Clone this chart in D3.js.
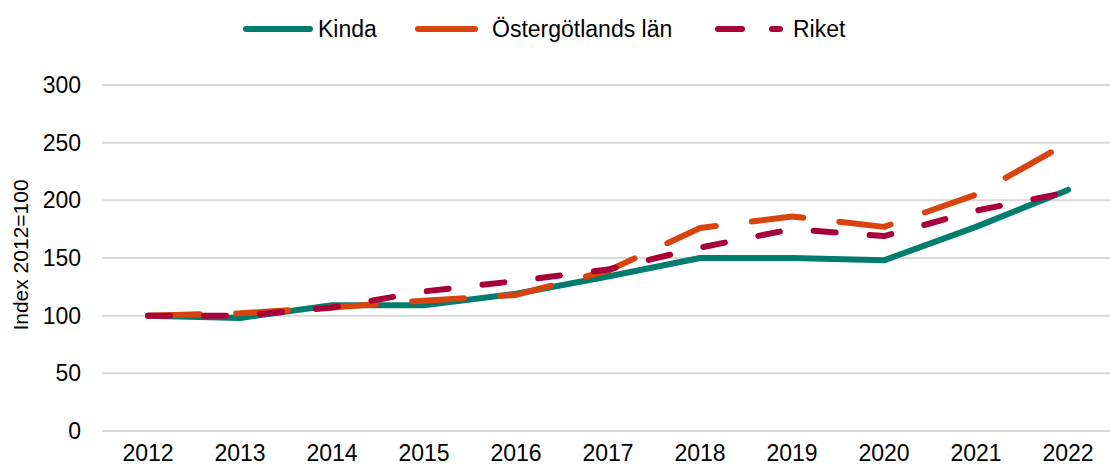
<!DOCTYPE html>
<html>
<head>
<meta charset="utf-8">
<script src="https://cdn.jsdelivr.net/npm/d3@7"></script>
<style>
    body { margin: 0; background: #fff; }
    svg { display: block; font-family: "Liberation Sans", Arial, sans-serif; }
</style>
</head>
<body>
<svg id="chart"></svg>
<script>
const years = ["2012", "2013", "2014", "2015", "2016", "2017", "2018", "2019", "2020", "2021", "2022"];

const kinda = [100, 98, 109, 109, 119, 134, 150, 150, 148, 177, 209];
const ostergotland = [100, 102, 107, 113, 118, 139, 176, 186, 177, 205, 250];
const riket = [100, 100, 107, 121, 130, 140, 159, 175, 169, 191, 207];

const seriesNames = ["Kinda", "Östergötlands län", "Riket"];
const yTicks = [0, 50, 100, 150, 200, 250, 300];
const yLabel = "Index 2012=100";

const width = 1110;
const height = 470;

const colors = ["#007D6E", "#D9440E", "#A8003A"];
const dashes = [null, "52 36.2", "22 34.1"];
const lineWidth = 6;
const fontSize = 23;

const svg = d3.select("#chart").attr("width", width).attr("height", height);

const scaleX = d3.scaleBand().domain(years).range([102, 1114]).paddingInner(0).paddingOuter(0);
const scaleY = d3.scaleLinear().domain([0, 300]).range([431, 85]);

// grid lines
svg.append("g")
    .attr("class", "gridLines")
    .selectAll("line")
    .data(yTicks)
    .join("line")
    .attr("x1", 102)
    .attr("x2", width)
    .attr("y1", (d) => scaleY(d))
    .attr("y2", (d) => scaleY(d))
    .attr("stroke", "#D9D9D9")
    .attr("stroke-width", 2);

// y axis
const yAxis = d3.axisLeft(scaleY).tickValues(yTicks).tickSize(0).tickPadding(0);
svg.append("g")
    .attr("class", "yAxis")
    .attr("transform", "translate(81, 0)")
    .call(yAxis)
    .call((g) => g.select(".domain").remove())
    .selectAll("text")
    .attr("font-size", fontSize)
    .attr("font-family", "Liberation Sans, Arial, sans-serif")
    .attr("fill", "#000");

// x axis
const xAxis = d3.axisBottom(scaleX).tickSize(0).tickPadding(0);
svg.append("g")
    .attr("class", "xAxis")
    .attr("transform", "translate(0, 444)")
    .call(xAxis)
    .call((g) => g.select(".domain").remove())
    .selectAll("text")
    .attr("dy", "0.75em")
    .attr("font-size", fontSize)
    .attr("font-family", "Liberation Sans, Arial, sans-serif")
    .attr("fill", "#000");

svg.append("text")
    .attr("transform", `translate(28, 255) rotate(-90)`)
    .attr("text-anchor", "middle")
    .attr("font-size", 21)
    .attr("fill", "#000")
    .text(yLabel);

// lines
const lineGenerator = d3
    .line()
    .x((d, i) => scaleX(years[i]) + scaleX.bandwidth() / 2)
    .y((d) => scaleY(d));

const allSeries = [kinda, ostergotland, riket];

svg.append("g")
    .attr("class", "values")
    .selectAll("path")
    .data(allSeries)
    .join("path")
    .attr("fill", "none")
    .attr("stroke", (d, i) => colors[i])
    .attr("stroke-width", lineWidth)
    .attr("stroke-linecap", "round")
    .attr("stroke-linejoin", "round")
    .attr("stroke-dasharray", (d, i) => dashes[i])
    .attr("d", lineGenerator);

// legend
const legendItems = [
    { x1: 246, x2: 310, textX: 318, dash: null },
    { x1: 418, x2: 475, textX: 492, dash: null },
    { x1: 718, x2: 780, textX: 793, dash: "24 30" }
];
const legendY = 29;

const legend = svg.append("g").attr("class", "legend");
legendItems.forEach((item, i) => {
    legend.append("line")
        .attr("x1", item.x1)
        .attr("x2", item.x2)
        .attr("y1", legendY)
        .attr("y2", legendY)
        .attr("stroke", colors[i])
        .attr("stroke-width", lineWidth)
        .attr("stroke-linecap", "round")
        .attr("stroke-dasharray", item.dash);
    legend.append("text")
        .attr("x", item.textX)
        .attr("y", legendY)
        .attr("dy", "0.36em")
        .attr("font-size", fontSize)
        .attr("fill", "#000")
        .text(seriesNames[i]);
});
</script>
</body>
</html>
